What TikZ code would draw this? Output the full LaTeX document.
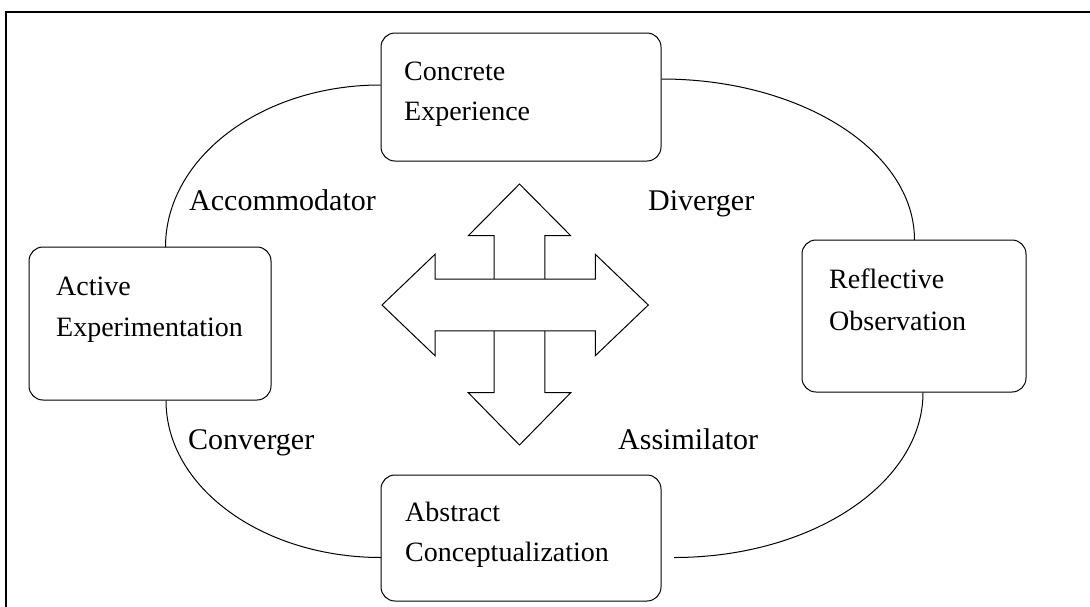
\documentclass[tikz,border=0pt]{standalone}
\usepackage{fontspec}
\setmainfont{Liberation Serif}
\begin{document}
\begin{tikzpicture}[x=1pt,y=1pt,
  stage/.style={draw, line width=1pt, rounded corners=14pt, inner sep=0pt},
  boxtext/.style={anchor=base west, inner sep=0pt, font=\fontsize{28}{32}\selectfont},
  styletext/.style={anchor=base west, inner sep=0pt, font=\fontsize{30}{34}\selectfont},
  link/.style={line width=1pt},
  bigarrow/.style={draw, line width=1pt, fill=white, line join=miter}]
\useasboundingbox (0,0) rectangle (1090,-606);
\draw[line width=1.3pt] (6,-12) rectangle (1100,-620);

% stage boxes
\node[stage, minimum width=280pt, minimum height=128pt] (ce) at (521,-97) {};
\node[stage, minimum width=242pt, minimum height=153pt] (ae) at (150,-323.5) {};
\node[stage, minimum width=224pt, minimum height=152pt] (ro) at (914,-316) {};
\node[stage, minimum width=280pt, minimum height=126pt] (ac) at (521,-538) {};

% box texts
\node[boxtext] (ce1) at (404,-80) {Concrete};
\node[boxtext] (ce2) at (404,-120) {Experience};
\node[boxtext] (ae1) at (56,-295) {Active};
\node[boxtext] (ae2) at (56,-336) {Experimentation};
\node[boxtext] (ro1) at (829,-288) {Reflective};
\node[boxtext] (ro2) at (829,-330) {Observation};
\node[boxtext] (ac1) at (405,-521) {Abstract};
\node[boxtext] (ac2) at (405,-561) {Conceptualization};

% learning style labels
\node[styletext] (acc) at (189,-210) {Accommodator};
\node[styletext] (div) at (648,-210) {Diverger};
\node[styletext] (con) at (188,-449) {Converger};
\node[styletext] (ass) at (618,-449) {Assimilator};

% cycle connectors
\draw[link] ([yshift=12pt]ce.west) arc[start angle=90, end angle=180, x radius=215pt, y radius=162pt];
\draw[link] ([yshift=18pt]ce.east) arc[start angle=90, end angle=0, x radius=253pt, y radius=161pt];
\draw[link] ([xshift=16pt]ae.south) arc[start angle=180, end angle=270, x radius=215pt, y radius=157pt];
\draw[link] ([xshift=9pt]ro.south) arc[start angle=0, end angle=-90, x radius=249pt, y radius=165pt];

% four-way arrow
\path[bigarrow] (519.5,-184) -- (570.7,-235.7) -- (544.8,-235.7) -- (544.8,-392.7)
  -- (570.7,-392.7) -- (519.5,-445) -- (468.3,-392.7) -- (494.2,-392.7)
  -- (494.2,-235.7) -- (468.3,-235.7) -- cycle;
\path[bigarrow] (382,-305) -- (435,-254.3) -- (435,-279.2) -- (595.3,-279.2)
  -- (595.3,-254.3) -- (648.3,-305) -- (595.3,-355.7) -- (595.3,-330.8)
  -- (435,-330.8) -- (435,-355.7) -- cycle;
\end{tikzpicture}
\end{document}
